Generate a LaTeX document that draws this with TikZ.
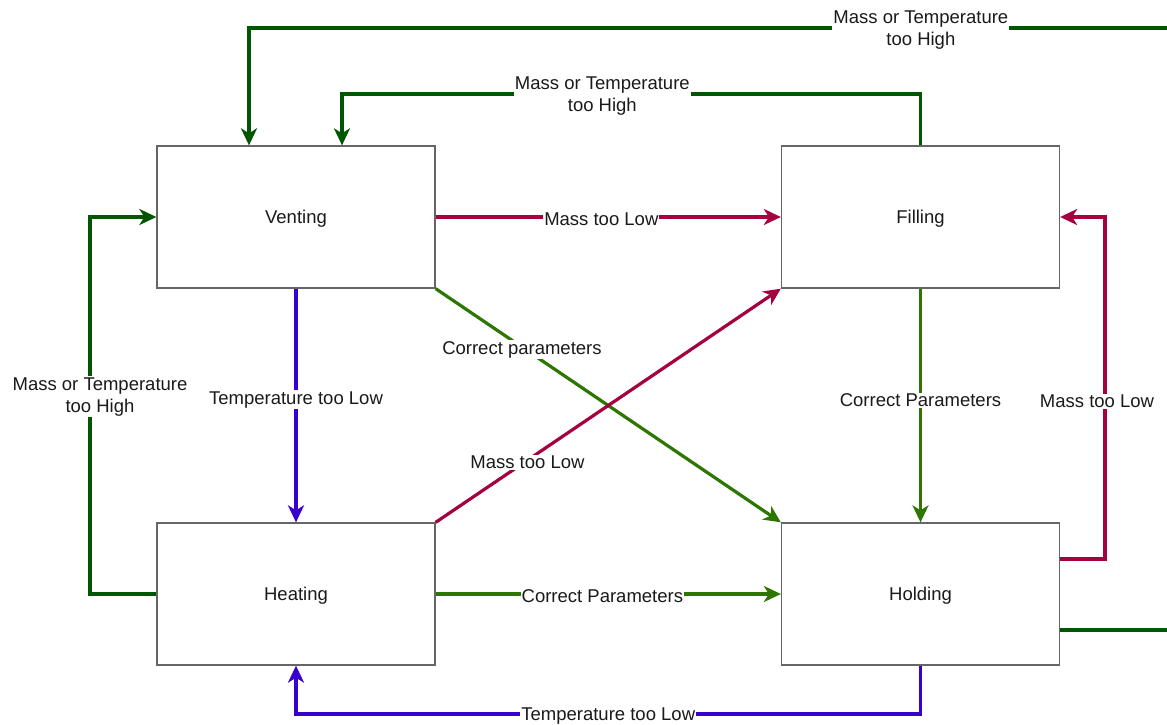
\documentclass[tikz,border=0pt]{standalone}
\usepackage{fontspec}
\setmainfont{Liberation Sans}
\usetikzlibrary{arrows.meta}
\definecolor{boxline}{HTML}{666666}
\definecolor{dgreen}{HTML}{005700}
\definecolor{lgreen}{HTML}{2D7600}
\definecolor{crimson}{HTML}{A50040}
\definecolor{indigo}{HTML}{3700CC}
\definecolor{txt}{HTML}{1A1A1A}
\tikzset{
  statebox/.style={draw=boxline, line width=1.3pt, fill=white,
    minimum width=278pt, minimum height=142pt, inner sep=0pt,
    text height=13.5pt, text depth=0pt,
    text=txt, font=\fontsize{18.5}{22}\selectfont},
  link/.style={line width=3.2pt,
    -{Stealth[length=17pt,width=16pt,inset=5pt]}},
  plain/.style={line width=3.2pt},
  lbl/.style={fill=white, inner sep=1pt, text=txt, align=center,
    yshift=-2.5pt, font=\fontsize{18.5}{22}\selectfont},
}
\begin{document}
\begin{tikzpicture}[x=1pt,y=-1pt]
  \clip (0,0) rectangle (1167,724);
  \fill[white] (0,0) rectangle (1167,724);

  % states
  \node[statebox] (vent) at (296,217) {Venting};
  \node[statebox] (fill) at (920.5,217) {Filling};
  \node[statebox] (heat) at (296,594) {Heating};
  \node[statebox] (hold) at (920.5,594) {Holding};

  % Holding back to Venting, around the outside
  \draw[plain, dgreen] (hold.east |- 0,630) -- (1190,630) -- (1190,28);
  \draw[link, dgreen] (1190,28) -- node[lbl, pos=0.286] {Mass or Temperature\\too High}
    (249,28) -- (vent.north -| 249,0);

  % Filling back to Venting
  \draw[link, dgreen] (fill.north) -- (920.5,94)
    -- node[lbl, pos=0.55] {Mass or Temperature\\too High} (342,94)
    -- (vent.north -| 342,0);

  % Venting to Filling
  \draw[link, crimson] (vent.east) -- node[lbl, pos=0.48] {Mass too Low} (fill.west);

  % diagonals
  \draw[link, lgreen] (vent.south east) -- node[lbl, pos=0.25] {Correct parameters} (hold.north west);
  \draw[link, crimson] (heat.north east) -- node[lbl, pos=0.266] {Mass too Low} (fill.south west);

  % Venting to Heating
  \draw[link, indigo] (vent.south) -- node[lbl, pos=0.464] {Temperature too Low} (heat.north);

  % Filling to Holding
  \draw[link, lgreen] (fill.south) -- node[lbl, pos=0.468] {Correct Parameters} (hold.north);

  % Heating to Holding
  \draw[link, lgreen] (heat.east) -- node[lbl, pos=0.483] {Correct Parameters} (hold.west);

  % Holding back to Filling
  \draw[link, crimson] (hold.east |- 0,559) -- (1105,559)
    -- node[lbl, pos=0.468, xshift=-8pt] {Mass too Low} (1105,217) -- (fill.east);

  % Heating back to Venting
  \draw[link, dgreen] (heat.west) -- (90,594)
    -- node[lbl, pos=0.53, xshift=10pt] {Mass or Temperature\\too High} (90,217) -- (vent.west);

  % Holding back to Heating
  \draw[link, indigo] (hold.south) -- (920.5,714)
    -- node[lbl, pos=0.5] {Temperature too Low} (296,714) -- (heat.south);
\end{tikzpicture}
\end{document}
